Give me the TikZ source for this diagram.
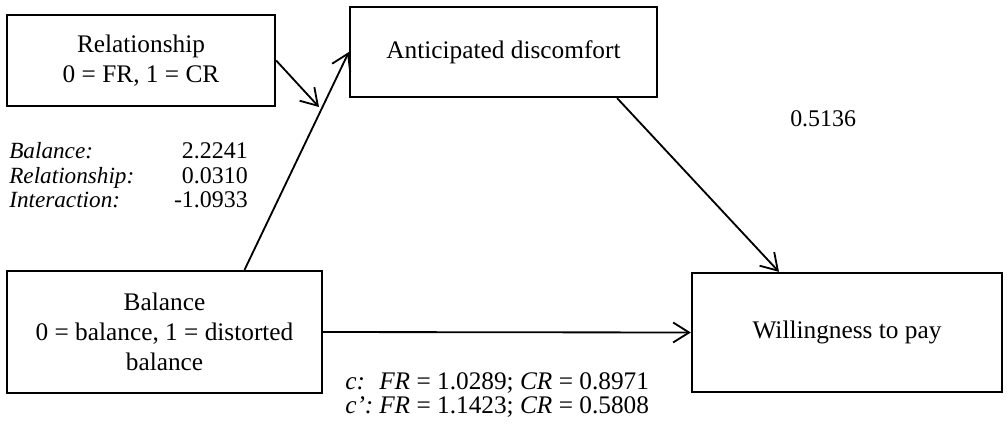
\documentclass[tikz,border=0pt]{standalone}
\usepackage{fontspec}
\setmainfont{Liberation Serif}
\usetikzlibrary{arrows.meta}
\tikzset{every picture/.append style={x=0.025cm, y=-0.025cm}}
\tikzset{
    box/.style={rectangle, draw, line width=1.6pt, align=center, inner sep=0pt,
    	font=\fontsize{18}{21.5}\selectfont},
    txt/.style={inner sep=0pt, font=\fontsize{17}{20}\selectfont},
    coef/.style={txt, anchor=base west, font=\fontsize{16.5}{20}\selectfont\itshape},
    arr/.style={line width=1.3pt, -{Straight Barb[length=4mm, width=5mm]}}
}

\begin{document}
\begin{tikzpicture}
  \useasboundingbox (0,0) rectangle (1008,424);
  \node (rel) [box, minimum width=6.7cm, minimum height=2.275cm] at (141, 60.5) {Relationship\\0 = FR, 1 = CR};
  \node (ant) [box, minimum width=7.675cm, minimum height=2.25cm] at (503.5, 52) {Anticipated discomfort};
  \node (bal) [box, minimum width=7.875cm, minimum height=3.05cm] at (164.5, 332) {Balance\\0 = balance, 1 = distorted\\balance};
  \node (wtp) [box, minimum width=7.75cm, minimum height=2.975cm] at (847, 332.5) {Willingness to pay};
  \coordinate (rel_tip) at (319, 107);

  \node (bal_lab) [coef] at (9, 158) {Balance:};
  \node (rel_lab) [coef] at (9, 183) {Relationship:};
  \node (int_lab) [coef] at (9, 207) {Interaction:};
  \node (bal_val) [txt, anchor=base east] at (248, 158) {2.2241};
  \node (rel_val) [txt, anchor=base east] at (248, 183) {0.0310};
  \node (int_val) [txt, anchor=base east] at (248, 207) {-1.0933};
  \node (b_path) [txt, anchor=base west] at (790, 126) {0.5136};
  \node (c_path) [txt, anchor=base west, font=\fontsize{18}{20}\selectfont] at (345, 389) {\makebox[0.85cm][l]{\textit{c:}}\textit{FR} = 1.0289; \textit{CR} = 0.8971};
  \node (cp_path) [txt, anchor=base west, font=\fontsize{18}{20}\selectfont] at (345, 413) {\makebox[0.85cm][l]{\textit{c':}}\textit{FR} = 1.1423; \textit{CR} = 0.5808};

  \draw [arr] (rel.east) -- (rel_tip);
  \draw [arr] ([xshift=2cm]bal.north) -- (ant.west);
  \draw [arr] ([xshift=2.84cm]ant.south) -- ([xshift=-1.7cm]wtp.north);
  \draw [arr] (bal.east) -- (wtp.west);
\end{tikzpicture}
\end{document}
